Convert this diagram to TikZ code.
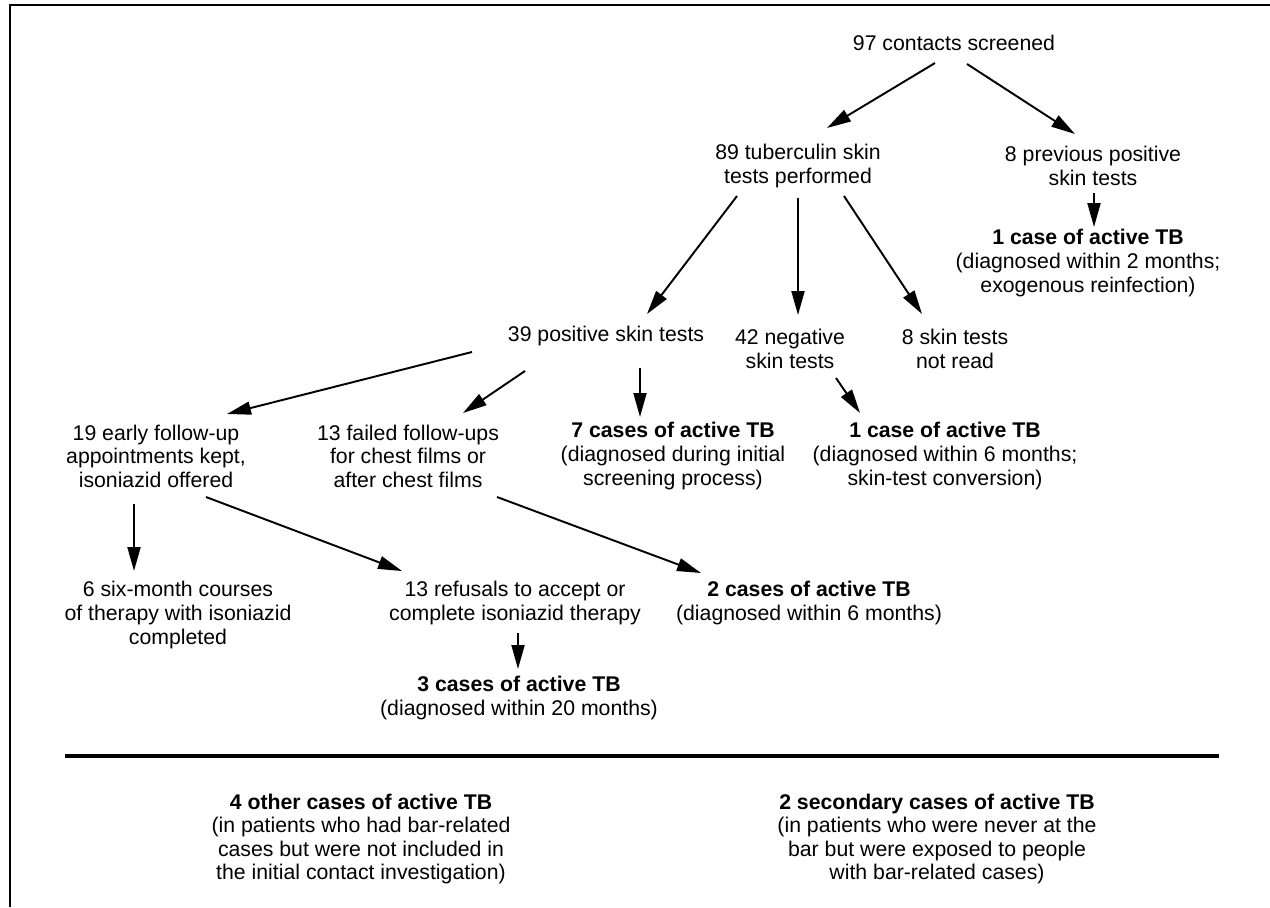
\documentclass[tikz,border=0pt]{standalone}
\usepackage{fontspec}
\setmainfont{Liberation Sans}
\usepackage{tikz}
\usetikzlibrary{arrows.meta}

\tikzset{
  lbl/.style={align=center, inner sep=0pt, font=\fontsize{12.1}{13.4}\selectfont},
  arr/.style={black, line width=1.1pt, -{Triangle[length=0.48cm, width=0.26cm]}},
}

\begin{document}
\begin{tikzpicture}[x=0.02cm, y=-0.02cm]

\useasboundingbox (0,0) rectangle (1270,907);

%\draw[step=50, gray, very thin, dotted] (0,0) grid (1270,907);

% frame
\draw[black, line width=1.7pt] (10,907) -- (10,5) -- (1270,5);

\node at (954,43) [lbl] (screened) {97 contacts screened};

\node at (798,166) [lbl] (tested) {89 tuberculin skin\\tests performed};
\node at (1093,166) [lbl] (prevpos) {8 previous positive\\skin tests};
\node at (1088,263) [lbl] (reinf)
		{{\bfseries 1 case of active TB}\\(diagnosed within 2 months;\\exogenous reinfection)};

\node at (606,336) [lbl] (positive) {39 positive skin tests};
\node at (790,349) [lbl] (negative) {42 negative\\skin tests};
\node at (955,349) [lbl] (notread) {8 skin tests\\not read};

\node at (156,456) [lbl] (early) {19 early follow-up\\appointments kept,\\isoniazid offered};
\node at (408,456) [lbl] (failed) {13 failed follow-ups\\for chest films or\\after chest films};
\node at (673,456) [lbl] (initial)
		{{\bfseries 7 cases of active TB}\\(diagnosed during initial\\screening process)};
\node at (945,456) [lbl] (convert)
		{{\bfseries 1 case of active TB}\\(diagnosed within 6 months;\\skin-test conversion)};

\node at (178,615) [lbl] (courses) {6 six-month courses\\of therapy with isoniazid\\completed};
\node at (515,603) [lbl] (refusals) {13 refusals to accept or\\complete isoniazid therapy};
\node at (809,603) [lbl] (late) {{\bfseries 2 cases of active TB}\\(diagnosed within 6 months)};

\node at (519,698) [lbl] (refcases) {{\bfseries 3 cases of active TB}\\(diagnosed within 20 months)};

% arrows
\draw[arr] ([shift={(-19,20)}]screened.center) -- ([shift={(29,-38)}]tested.center);
\draw[arr] ([shift={(13,21)}]screened.center) -- ([shift={(-18,-32)}]prevpos.center);
\draw[arr] ([shift={(1,27)}]prevpos.center) -- ([shift={(6,-36)}]reinf.center);

\draw[arr] ([shift={(-61,30)}]tested.center) -- ([shift={(41,-22)}]positive.center);
\draw[arr] ([shift={(0,32)}]tested.center) -- ([shift={(8,-34)}]negative.center);
\draw[arr] ([shift={(46,30)}]tested.center) -- ([shift={(-33,-35)}]notread.center);

\draw[arr] ([shift={(-134,16)}]positive.center) -- ([shift={(71,-42)}]early.center);
\draw[arr] ([shift={(-81,35)}]positive.center) -- ([shift={(55,-43)}]failed.center);
\draw[arr] ([shift={(34,32)}]positive.center) -- ([shift={(-33,-39)}]initial.center);
\draw[arr] ([shift={(46,29)}]negative.center) -- ([shift={(-85,-43)}]convert.center);

\draw[arr] ([shift={(-22,48)}]early.center) -- ([shift={(-44,-44)}]courses.center);
\draw[arr] ([shift={(50,41)}]early.center) -- ([shift={(-113,-32)}]refusals.center);
\draw[arr] ([shift={(89,41)}]failed.center) -- ([shift={(-108,-30)}]late.center);
\draw[arr] ([shift={(3,30)}]refusals.center) -- ([shift={(-1,-29)}]refcases.center);

% separator
\draw[black, line width=1.9pt] (65,756) -- (1219,756);

\node at (361,839) [lbl] (other)
		{{\bfseries 4 other cases of active TB}\\(in patients who had bar-related\\cases but were not included in\\the initial contact investigation)};
\node at (937,839) [lbl] (secondary)
		{{\bfseries 2 secondary cases of active TB}\\(in patients who were never at the\\bar but were exposed to people\\with bar-related cases)};

\end{tikzpicture}
\end{document}
